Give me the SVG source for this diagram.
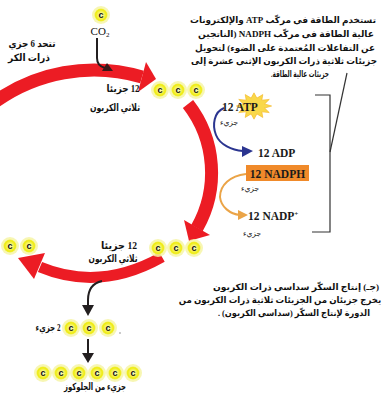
<svg xmlns="http://www.w3.org/2000/svg" width="382" height="397" viewBox="0 0 382 397">
<defs>
<radialGradient id="yg" cx="0.5" cy="0.5" r="0.5">
<stop offset="0" stop-color="#fdfdd8"/>
<stop offset="0.45" stop-color="#f6f46a"/>
<stop offset="0.8" stop-color="#eeeb12"/>
<stop offset="1" stop-color="#f3f140"/>
</radialGradient>
<style>
.glow{fill:#f6f5a6;opacity:.85}
.core{fill:url(#yg)}
.c{font-family:"Liberation Sans",Arial,sans-serif;font-weight:bold;font-size:9px;text-anchor:middle;fill:#111}
.ar{font-family:"Liberation Serif","DejaVu Sans",serif;font-weight:bold;font-size:10px;fill:#111;direction:rtl;text-anchor:middle}
.para{font-family:"Liberation Serif","DejaVu Sans",serif;font-weight:bold;font-size:8.6px;fill:#111;direction:rtl;text-anchor:middle}
.sm{font-family:"DejaVu Sans",sans-serif;font-size:7.5px;fill:#222;direction:rtl;text-anchor:middle}
.lat{font-family:"Liberation Serif",serif;font-weight:bold;font-size:11.5px;fill:#1a1a1a}
.red{fill:none;stroke:#ec1c24}
.redh{fill:#ec1c24}
.blk{fill:none;stroke:#231f20;stroke-width:2}
</style>
</defs>
<rect width="382" height="397" fill="#fff"/>

<g id="connectors">
<path class="red" stroke-width="13" d="M -8,104 A 170 170 0 0 1 142,77"/>
<polygon class="redh" points="146,62 138,92 156,79"/>
<path class="red" stroke-width="13" d="M 188,104 A 112 112 0 0 1 197,228"/>
<polygon class="redh" points="210,235 184,220 189,241"/>
<path class="red" stroke-width="11" d="M 162,257 Q 100,292 40,267"/>
<polygon class="redh" points="45,253 34,279 18,258"/>
<path class="blk" d="M 97,38 L 97,58 Q 97,66 105,68"/>
<polygon fill="#3a1a1a" points="102,71 107,63 113,71"/>
<path class="blk" d="M 102,281 C 93,283 88,290 88,300 L 88,307"/>
<polygon fill="#231f20" points="82,305 94,305 88,316"/>
<path class="blk" d="M 88,339 L 88,355"/>
<polygon fill="#231f20" points="82,353 94,353 88,363"/>
<path fill="none" stroke="#2b3590" stroke-width="2" d="M 224,108 C 214,112 212,125 216,135 C 220,145 232,150 243,151"/>
<polygon fill="#2b3590" points="242,146 242,157 253,151"/>
<path fill="none" stroke="#eba447" stroke-width="2" d="M 246,174 C 230,176 220,185 220,197 C 221,207 230,214 240,215"/>
<polygon fill="#eba447" points="238,210 238,220 248,215"/>
<polyline fill="none" stroke="#333" stroke-width="1.2" points="315,95 330,95 330,232 312,232"/>
<line x1="347" y1="73" x2="330" y2="152" stroke="#333" stroke-width="1.2"/>
</g>

<g id="co2">
<circle class="glow" cx="101" cy="15" r="9"/><circle class="core" cx="101" cy="15" r="6.5"/><text class="c" x="101" y="18">c</text>
<text x="100" y="35" font-family="Liberation Serif,serif" font-size="11" fill="#111" text-anchor="middle">CO<tspan font-size="7" dy="2">2</tspan></text>
</g>

<g id="left-label">
<text class="ar" x="32" y="47" font-size="9" textLength="47" lengthAdjust="spacingAndGlyphs">تتحد 6 جزي</text>
<text class="ar" x="29" y="61" font-size="9" textLength="42" lengthAdjust="spacingAndGlyphs">ذرات الكر</text>
</g>

<g id="top-3c">
<circle class="glow" cx="160" cy="90" r="9"/><circle class="core" cx="160" cy="90" r="6.5"/><text class="c" x="160" y="93">c</text>
<circle class="glow" cx="178" cy="90" r="9"/><circle class="core" cx="178" cy="90" r="6.5"/><text class="c" x="178" y="93">c</text>
<circle class="glow" cx="196" cy="90" r="9"/><circle class="core" cx="196" cy="90" r="6.5"/><text class="c" x="196" y="93">c</text>
<text class="ar" x="123" y="92" font-size="11" textLength="33" lengthAdjust="spacingAndGlyphs">12 جزيئا</text>
<text class="ar" x="115" y="111" textLength="50" lengthAdjust="spacingAndGlyphs">ثلاثي الكربون</text>
</g>

<g id="mid-3c">
<circle class="glow" cx="158" cy="248" r="9"/><circle class="core" cx="158" cy="248" r="6.5"/><text class="c" x="158" y="251">c</text>
<circle class="glow" cx="176" cy="248" r="9"/><circle class="core" cx="176" cy="248" r="6.5"/><text class="c" x="176" y="251">c</text>
<circle class="glow" cx="194" cy="248" r="9"/><circle class="core" cx="194" cy="248" r="6.5"/><text class="c" x="194" y="251">c</text>
<text class="ar" x="119" y="249" font-size="11" textLength="36" lengthAdjust="spacingAndGlyphs">12 جزيئا</text>
<text class="ar" x="113" y="262" textLength="49" lengthAdjust="spacingAndGlyphs">ثلاثي الكربون</text>
</g>

<g id="left-3c">
<circle class="glow" cx="-10" cy="246" r="9"/>
<circle class="glow" cx="10" cy="246" r="9"/><circle class="core" cx="10" cy="246" r="6.5"/><text class="c" x="10" y="249">c</text>
<circle class="glow" cx="29" cy="246" r="9"/><circle class="core" cx="29" cy="246" r="6.5"/><text class="c" x="29" y="249">c</text>
</g>

<g id="two-molecules">
<text class="ar" x="48" y="331" font-size="9" textLength="25" lengthAdjust="spacingAndGlyphs">2 جزيء</text>
<circle class="glow" cx="71" cy="328" r="9"/><circle class="core" cx="71" cy="328" r="6.5"/><text class="c" x="71" y="331">c</text>
<circle class="glow" cx="89" cy="328" r="9"/><circle class="core" cx="89" cy="328" r="6.5"/><text class="c" x="89" y="331">c</text>
<circle class="glow" cx="108" cy="328" r="9"/><circle class="core" cx="108" cy="328" r="6.5"/><text class="c" x="108" y="331">c</text>
<circle cx="120" cy="333" r="0.8" fill="#888"/>
</g>

<g id="glucose">
<circle class="glow" cx="43" cy="373" r="9"/><circle class="core" cx="43" cy="373" r="6.5"/><text class="c" x="43" y="376">c</text>
<circle class="glow" cx="61" cy="373" r="9"/><circle class="core" cx="61" cy="373" r="6.5"/><text class="c" x="61" y="376">c</text>
<circle class="glow" cx="79" cy="373" r="9"/><circle class="core" cx="79" cy="373" r="6.5"/><text class="c" x="79" y="376">c</text>
<circle class="glow" cx="97" cy="373" r="9"/><circle class="core" cx="97" cy="373" r="6.5"/><text class="c" x="97" y="376">c</text>
<circle class="glow" cx="115" cy="373" r="9"/><circle class="core" cx="115" cy="373" r="6.5"/><text class="c" x="115" y="376">c</text>
<circle class="glow" cx="133" cy="373" r="9"/><circle class="core" cx="133" cy="373" r="6.5"/><text class="c" x="133" y="376">c</text>
<text class="ar" x="95" y="390" font-size="9.5" textLength="62" lengthAdjust="spacingAndGlyphs">جزيء من الجلوكوز</text>
</g>

<g id="atp">
<polygon fill="#f9d84a" stroke="#f4b82a" stroke-width="0.6" transform="translate(254,106) scale(1.1) translate(-250,-106)" points="266,106 259.7,107.9 263.9,112 257.1,111.3 258,116.4 252.6,113.2 250,118 247.4,113.2 242,116.4 242.9,111.3 236.1,112 240.3,107.9 234,106 240.3,104.1 236.1,100 242.9,100.7 242,95.6 247.4,98.8 250,94 252.6,98.8 258,95.6 257.1,100.7 263.9,100 259.7,104.1"/>
<text class="lat" x="222" y="111" fill="#3b1c14">12 ATP</text>
<text class="sm" x="229" y="125">جزيء</text>
</g>

<g id="adp">
<text class="lat" x="258" y="157">12 ADP</text>
</g>

<g id="nadph">
<rect x="246" y="165" width="63" height="16" fill="#f08a2a"/>
<text class="lat" x="277.5" y="177.5" text-anchor="middle" fill="#3a1205">12 NADPH</text>
<text class="sm" x="250" y="191">جزيء</text>
</g>

<g id="nadp">
<text class="lat" x="248" y="220">12 NADP<tspan font-size="7" dy="-4">+</tspan></text>
<text class="sm" x="252" y="236">جزيء</text>
</g>

<g id="text-energy">
<text class="para" x="283" y="23" textLength="186" lengthAdjust="spacingAndGlyphs">تستخدم الطاقة في مركّب ATP والإلكترونات</text>
<text class="para" x="286" y="37" textLength="176" lengthAdjust="spacingAndGlyphs">عالية الطاقة في مركّب NADPH (الناتجين</text>
<text class="para" x="285" y="51" textLength="180" lengthAdjust="spacingAndGlyphs">عن التفاعلات المُعتمدة على الضوء) لتحويل</text>
<text class="para" x="284" y="64" textLength="186" lengthAdjust="spacingAndGlyphs">جزيئات ثلاثية ذرات الكربون الإثني عشرة إلى</text>
<text class="para" x="300" y="77" textLength="58" lengthAdjust="spacingAndGlyphs">جزيئات عالية الطاقة.</text>
</g>

<g id="text-sugar">
<text class="para" x="296" y="290" fill="#b5202a" textLength="166" lengthAdjust="spacingAndGlyphs">(جـ) إنتاج السكّر سداسي ذرات الكربون</text>
<text class="para" x="280" y="303" font-size="7">يخرج جزيئان من الجزيئات ثلاثية ذرات الكربون من</text>
<text class="para" x="294" y="316" textLength="152" lengthAdjust="spacingAndGlyphs">الدورة لإنتاج السكّر (سداسي الكربون) .</text>
</g>
</svg>
